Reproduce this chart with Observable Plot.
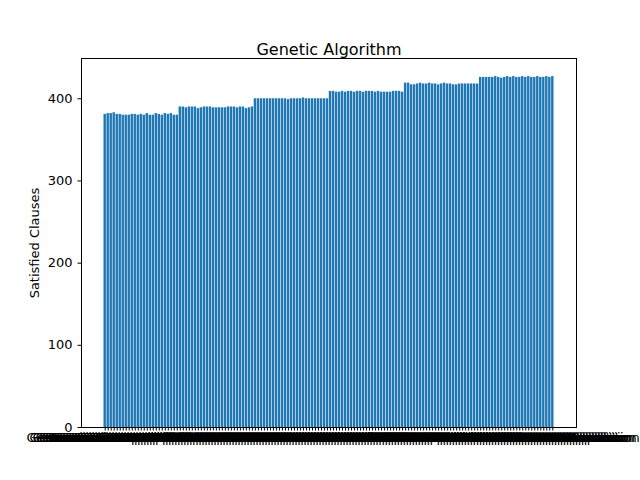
<!DOCTYPE html>
<html><head><meta charset="utf-8">
<script src="https://cdn.jsdelivr.net/npm/d3@7"></script>
<script src="https://cdn.jsdelivr.net/npm/@observablehq/plot@0.6"></script>
<style>body{margin:0;background:#fff}</style>
</head><body><div id="chart"></div>
<script>
// satisfied clauses per run, six plateaus of 25 runs
const group1 = [381,382,382,383,381,381,380,380,380,381,381,380,381,380,382,380,380,382,381,380,382,381,382,380,380];
const group2 = [390,390,389,390,390,390,388,389,390,390,390,389,389,389,389,389,390,390,390,389,390,390,388,389,390];
const group3 = [400,400,400,400,400,400,400,400,400,400,400,399,400,400,400,400,401,400,400,400,400,400,400,400,400];
const group4 = [409,409,408,408,409,408,409,409,408,409,409,408,409,409,409,408,409,408,408,408,408,409,409,409,408];
const group5 = [419,419,417,417,418,419,418,418,419,418,418,417,418,419,418,418,417,417,418,418,418,418,418,418,418];
const group6 = [426,426,426,426,426,427,426,425,426,427,426,427,426,426,427,426,427,426,426,427,426,426,427,426,427];
const values = [...group1, ...group2, ...group3, ...group4, ...group5, ...group6];
const labels = values.map((v, i) => `Generation ${i + 1} Population`);
const data = values.map((v, i) => ({i, v}));

const pad = (values.length - 1 + 0.8) * 0.05;
const chart = Plot.plot({
  width: 640, height: 480,
  marginLeft: 81, marginRight: 64, marginTop: 58, marginBottom: 53,
  style: {fontFamily: "DejaVu Sans", fontSize: "13px", background: "#fff", color: "#000"},
  x: {domain: [-0.4 - pad, values.length - 0.6 + pad], ticks: d3.range(values.length),
      tickFormat: i => labels[i], tickSize: 3.5, tickPadding: 2, label: null},
  y: {domain: [0, 449], ticks: [0, 100, 200, 300, 400], tickSize: 3.5,
      label: "Satisfied Clauses", labelAnchor: "center", labelArrow: "none", labelOffset: 52},
  marks: [
    Plot.rectY(data, {x1: d => d.i - 0.4, x2: d => d.i + 0.4, y: "v", fill: "#1f77b4"}),
    Plot.frame({stroke: "#000"}),
    Plot.text(["Genetic Algorithm"], {frameAnchor: "top", dy: -15, fontSize: 16, fill: "#000"})
  ]
});
chart.querySelectorAll("text").forEach(t => t.setAttribute("fill", "#000"));
document.getElementById("chart").append(chart);
</script></body></html>
